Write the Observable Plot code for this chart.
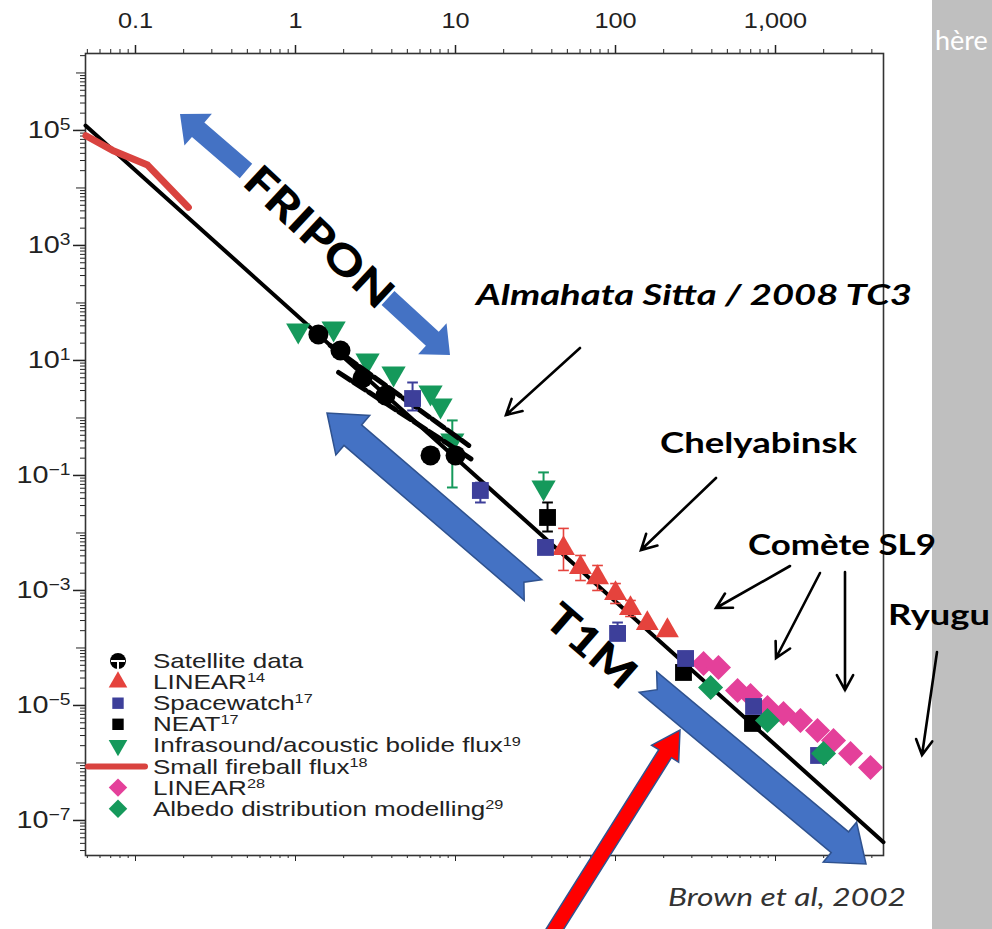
<!DOCTYPE html>
<html><head><meta charset="utf-8">
<script src="https://cdn.jsdelivr.net/npm/d3@7"></script>
<script src="https://cdn.jsdelivr.net/npm/@observablehq/plot@0.6"></script>
<style>
html,body{margin:0;padding:0;background:#fff;}
#wrap{position:relative;width:992px;height:929px;overflow:hidden;background:#fff;}
#wrap svg{position:absolute;left:0;top:0;}
</style></head><body><div id="wrap"></div>
<script>
// ---------- axis ticks ----------
const xMajorTicks = [0.1, 1, 10, 100, 1000];
const xTickLabels = ["0.1", "1", "10", "100", "1,000"];
const yLabeledTicks = [1e5, 1e3, 1e1, 1e-1, 1e-3, 1e-5, 1e-7];
const yTickLabels = ["10^5", "10^3", "10^1", "10^−1", "10^−3", "10^−5", "10^−7"];

// ---------- data (diameter, cumulative number per year) ----------
const fitD = [0.0487, 4730];
const fitN = [1.22e5, 4.2e-8];

const fireballD = [0.049, 0.072, 0.119, 0.214];
const fireballN = [8.1e4, 4.5e4, 2.5e4, 4.6e3];

const satD = [1.39, 1.91, 2.62, 3.65, 6.98, 10.0];
const satN = [28.3, 14.9, 4.9, 2.46, 0.223, 0.223];
const satUpperD = [1.65, 12.1];
const satUpperN = [18.2, 0.333];
const satLowerD = [1.86, 12.96];
const satLowerN = [6.18, 0.182];

const infraD = [1.04, 1.73, 2.82, 4.1, 6.98, 8.06, 9.55, 35.5];
const infraN = [33.3, 36.1, 10, 5.94, 2.77, 1.65, 0.406, 0.0618];
const infraHi = [null, null, null, null, null, null, 0.906, 0.113];
const infraLo = [null, null, null, null, null, null, 0.0618, null];

const lin14D = [47.3, 60.4, 77.2, 100, 124, 158, 211];
const lin14N = [5.37e-3, 2.51e-3, 1.68e-3, 8.87e-4, 4.86e-4, 2.67e-4, 2.01e-4];
const lin14Hi = [0.0120, 4.06e-3, 2.72e-3, 1.32e-3, 6.7e-4, null, null];
const lin14Lo = [2.23e-3, 1.49e-3, 1.0e-3, 5.94e-4, 3.53e-4, null, null];

const swD = [5.39, 14.3, 36.5, 103, 274, 729, 1857];
const swN = [2.18, 0.0548, 0.0056, 1.79e-4, 6.56e-5, 9.6e-6, 1.35e-6];
const swHi = [4.14, 0.075, null, 2.77e-4, null, null, null];
const swLo = [1.35, 0.0339, null, null, null, null, null];

const neatD = [37.6, 266, 718];
const neatN = [0.0186, 3.75e-5, 4.87e-6];
const neatHi = [0.0339, null, null];
const neatLo = [0.0106, null, null];

const lin28D = [355, 440, 579, 698, 891, 1122, 1432, 1830, 2304, 2944, 3924];
const lin28N = [5.37e-5, 4.58e-5, 1.82e-5, 1.49e-5, 9.2e-6, 7.27e-6, 5.48e-6, 3.67e-6, 2.46e-6, 1.46e-6, 8.35e-7];

const albD = [393, 891, 1995];
const albN = [2.06e-5, 5.48e-6, 1.46e-6];

// ---------- legend ----------
const legendNames = ["Satellite data", "LINEAR", "Spacewatch", "NEAT", "Infrasound/acoustic bolide flux", "Small fireball flux", "LINEAR", "Albedo distribution modelling"];
const legendSups = ["", "14", "17", "17", "19", "18", "28", "29"];

// ---------- colours ----------
const C = {red: "#e5433d", fire: "#d9433f", blue: "#3d3f9a", green: "#15995b", pink: "#e4409a", black: "#000"};

// ---------- helpers ----------
const rows = (xs, ys, hi, lo) => xs.map((x, i) => ({x, y: ys[i], hi: hi ? hi[i] : null, lo: lo ? lo[i] : null}));
const triDown = {draw(ctx, size) { const y = -Math.sqrt(size / (Math.sqrt(3) * 3)); ctx.moveTo(0, -2 * y); ctx.lineTo(Math.sqrt(3) * y, y); ctx.lineTo(-Math.sqrt(3) * y, y); ctx.closePath(); }};
const triUp = {draw(ctx, size) { const y = -Math.sqrt(size / (Math.sqrt(3) * 3)); ctx.moveTo(0, 2 * y); ctx.lineTo(-Math.sqrt(3) * y, -y); ctx.lineTo(Math.sqrt(3) * y, -y); ctx.closePath(); }};
const diamondSym = {draw(ctx, size) { const h = Math.sqrt(size / 2); ctx.moveTo(0, -h); ctx.lineTo(h, 0); ctx.lineTo(0, h); ctx.lineTo(-h, 0); ctx.closePath(); }};
function errMarks(data, color, w) {
  const withErr = data.filter(d => d.hi != null || d.lo != null);
  const caps = withErr.flatMap(d => [d.hi != null ? {x: d.x, c: d.hi} : null, d.lo != null ? {x: d.x, c: d.lo} : null].filter(Boolean));
  return [
    Plot.ruleX(withErr, {x: "x", y1: d => d.lo ?? d.y, y2: d => d.hi ?? d.y, stroke: color, strokeWidth: w}),
    Plot.link(caps, {x1: d => d.x / 1.08, x2: d => d.x * 1.08, y1: "c", y2: "c", stroke: color, strokeWidth: w})
  ];
}

const fit = rows(fitD, fitN), fire = rows(fireballD, fireballN), sat = rows(satD, satN);
const satUp = rows(satUpperD, satUpperN), satLow = rows(satLowerD, satLowerN);
const infra = rows(infraD, infraN, infraHi, infraLo), lin14 = rows(lin14D, lin14N, lin14Hi, lin14Lo);
const sw = rows(swD, swN, swHi, swLo), neat = rows(neatD, neatN, neatHi, neatLo);
const lin28 = rows(lin28D, lin28N), alb = rows(albD, albN);

const xDomain = [0.0487, 4730], yDomain = [2.46e-8, 2.18e6];
const xMinor = d3.range(-2, 4).flatMap(e => d3.range(2, 10).map(m => m * 10 ** e)).filter(v => v > xDomain[0] && v < xDomain[1]);
const yDecades = d3.range(-7, 7).map(e => 10 ** e);
const yMinor = d3.range(-8, 7).flatMap(e => d3.range(2, 10).map(m => m * 10 ** e)).filter(v => v > yDomain[0] && v < yDomain[1]);

const chart = Plot.plot({
  width: 992, height: 929,
  marginLeft: 85, marginRight: 109, marginTop: 53, marginBottom: 74,
  x: {type: "log", domain: xDomain},
  y: {type: "log", domain: yDomain},
  style: {fontFamily: "'Liberation Sans', Arial, sans-serif", fontSize: "22px", color: "#222", background: "transparent"},
  marks: [
    Plot.axisX({anchor: "top", ticks: xMajorTicks, tickFormat: d => xTickLabels[xMajorTicks.indexOf(d)], tickSize: 9, tickPadding: 17, label: null, strokeWidth: 1.5}),
    Plot.axisX({anchor: "top", ticks: xMinor, tickFormat: () => "", tickSize: 5, label: null}),
    Plot.axisX({anchor: "bottom", ticks: xMajorTicks, tickFormat: () => "", tickSize: 6, label: null}),
    Plot.axisX({anchor: "bottom", ticks: xMinor, tickFormat: () => "", tickSize: 3, label: null}),
    Plot.axisY({anchor: "left", ticks: yLabeledTicks, tickFormat: d => yTickLabels[yLabeledTicks.indexOf(d)], tickSize: 12, tickPadding: 3, label: null, strokeWidth: 1.5}),
    Plot.axisY({anchor: "left", ticks: yDecades, tickFormat: () => "", tickSize: 9, label: null}),
    Plot.axisY({anchor: "left", ticks: yMinor, tickFormat: () => "", tickSize: 5, label: null}),
    Plot.frame({stroke: "#333", strokeWidth: 1.6}),
    Plot.line(fit, {x: "x", y: "y", stroke: C.black, strokeWidth: 4}),
    Plot.line(fire, {x: "x", y: "y", stroke: C.fire, strokeWidth: 7, strokeLinejoin: "round", strokeLinecap: "round"}),
    ...errMarks(infra, C.green, 2),
    Plot.dot(infra, {x: "x", y: "y", symbol: triDown, r: 9, fill: C.green}),
    Plot.line(satUp, {x: "x", y: "y", stroke: C.black, strokeWidth: 5, strokeDasharray: "14,4"}),
    Plot.line(satLow, {x: "x", y: "y", stroke: C.black, strokeWidth: 5, strokeDasharray: "14,4"}),
    Plot.dot(sat, {x: "x", y: "y", r: 10, fill: C.black}),
    ...errMarks(lin14, C.red, 1.6),
    Plot.dot(lin14, {x: "x", y: "y", symbol: triUp, r: 8.5, fill: C.red}),
    Plot.dot(lin28, {x: "x", y: "y", symbol: diamondSym, r: 10, fill: C.pink}),
    ...errMarks(neat, C.black, 2),
    Plot.dot(neat, {x: "x", y: "y", symbol: "square", r: 9.5, fill: C.black}),
    ...errMarks(sw, C.blue, 2),
    Plot.dot(sw, {x: "x", y: "y", symbol: "square", r: 9.5, fill: C.blue}),
    Plot.dot(alb, {x: "x", y: "y", symbol: diamondSym, r: 10, fill: C.green})
  ]
});
document.getElementById("wrap").appendChild(chart);

// superscripts in y tick labels, widened like the reference
d3.select(chart).selectAll('g[aria-label="y-axis tick label"] text').each(function() {
  const t = this.textContent;
  if (!t.includes("^")) return;
  const [base, exp] = t.split("^");
  const sel = d3.select(this).attr("font-size", 24);
  sel.text(null);
  sel.append("tspan").text(base);
  sel.append("tspan").attr("dy", "-0.5em").attr("font-size", "16px").text(exp);
  const w = this.getComputedTextLength();
  sel.attr("textLength", w * 1.2).attr("lengthAdjust", "spacingAndGlyphs");
});
d3.select(chart).selectAll('g[aria-label="x-axis tick label"] text').each(function() {
  if (!this.textContent) return;
  const w = this.getComputedTextLength();
  d3.select(this).attr("textLength", w * 1.15).attr("lengthAdjust", "spacingAndGlyphs");
});

// ---------- overlay: legend & annotations ----------
const ov = d3.select("#wrap").append("svg").attr("width", 992).attr("height", 929);
ov.append("rect").attr("x", 932).attr("y", 0).attr("width", 60).attr("height", 929).attr("fill", "#bfbfbf");
ov.append("text").attr("x", 935).attr("y", 50).attr("fill", "#fff").attr("font-family", "Lato, 'Open Sans', sans-serif").attr("font-size", 27).text("hère");

// legend
const lg = ov.append("g").attr("font-family", "'Liberation Sans', Arial, sans-serif").attr("fill", "#222");
legendNames.forEach((name, i) => {
  const cy = 661 + i * 21.1, sx = 118;
  const t = lg.append("text").attr("x", 0).attr("y", 0).attr("font-size", 20)
    .attr("transform", `translate(153,${cy + 7}) scale(1.3,1)`);
  t.append("tspan").text(name);
  if (legendSups[i]) t.append("tspan").attr("dy", "-0.55em").attr("font-size", 12.5).text(legendSups[i]);
  const sym = [d3.symbolCircle, triUp, d3.symbolSquare, d3.symbolSquare, triDown, null, diamondSym, diamondSym][i];
  const col = [C.black, C.red, C.blue, C.black, C.green, C.fire, C.pink, C.green][i];
  const size = [200, 150, 130, 130, 150, 0, 170, 170][i];
  if (sym) lg.append("path").attr("transform", `translate(${sx},${cy})`).attr("d", d3.symbol(sym, size)()).attr("fill", col);
  else lg.append("line").attr("x1", 88).attr("x2", 145).attr("y1", cy).attr("y2", cy).attr("stroke", col).attr("stroke-width", 6).attr("stroke-linecap", "round");
  if (i === 0) {
    lg.append("line").attr("x1", sx - 7).attr("x2", sx + 7).attr("y1", cy).attr("y2", cy).attr("stroke", "#fff").attr("stroke-width", 2);
    lg.append("line").attr("x1", sx).attr("x2", sx).attr("y1", cy).attr("y2", cy + 9).attr("stroke", "#fff").attr("stroke-width", 2);
  }
});

function blockArrow(tail, tip, sw, hw, hl, notch) {
  const dx = tip[0] - tail[0], dy = tip[1] - tail[1], L = Math.hypot(dx, dy);
  const ux = dx / L, uy = dy / L, nx = -uy, ny = ux;
  const P = (a, b) => [tail[0] + ux * a + nx * b, tail[1] + uy * a + ny * b];
  const pts = [P(0, sw / 2), P(L - hl, sw / 2), P(L - hl, hw / 2), P(L, 0), P(L - hl, -hw / 2), P(L - hl, -sw / 2), P(0, -sw / 2)];
  if (notch) pts.push(P(notch, 0));
  return "M" + pts.map(p => p.join(",")).join("L") + "Z";
}
function thinArrow(a, b) {
  const ang = Math.atan2(b[1] - a[1], b[0] - a[0]), hl = 17, spread = 0.5;
  const p1 = [b[0] - hl * Math.cos(ang - spread), b[1] - hl * Math.sin(ang - spread)];
  const p2 = [b[0] - hl * Math.cos(ang + spread), b[1] - hl * Math.sin(ang + spread)];
  ov.append("path").attr("d", `M${a}L${b}M${p1}L${b}L${p2}`).attr("fill", "none").attr("stroke", "#000").attr("stroke-width", 2.6).attr("stroke-linecap", "round").attr("stroke-linejoin", "miter");
}
const BLUE = "#4472c4", BLUE_D = "#2f528f";
// FRIPON arrows
ov.append("path").attr("d", blockArrow([246, 171], [180, 114], 19, 42, 24, 0)).attr("fill", BLUE);
ov.append("path").attr("d", blockArrow([388, 298], [450, 355], 19, 42, 24, 0)).attr("fill", BLUE);
// T1M arrows
ov.append("path").attr("d", blockArrow([533, 590], [327, 413], 27, 52, 34, 12)).attr("fill", BLUE).attr("stroke", BLUE_D).attr("stroke-width", 1.5);
ov.append("path").attr("d", blockArrow([648, 682], [866, 864], 27, 52, 34, 12)).attr("fill", BLUE).attr("stroke", BLUE_D).attr("stroke-width", 1.5);
// red arrow
ov.append("path").attr("d", blockArrow([548, 940], [680, 730], 15, 32, 28, 0)).attr("fill", "#ff0000").attr("stroke", BLUE_D).attr("stroke-width", 1.5);

const ann = (txt, x, y, opts = {}) => {
  const t = ov.append("text").attr("x", x).attr("y", y).attr("font-family", "Lato, 'Open Sans', sans-serif")
    .attr("font-weight", opts.weight || "bold").attr("font-style", opts.italic ? "italic" : "normal")
    .attr("font-size", opts.size || 28).attr("fill", opts.fill || "#000").text(txt);
  if (opts.len) t.attr("textLength", opts.len).attr("lengthAdjust", "spacingAndGlyphs");
  if (opts.rot != null) t.attr("text-anchor", "middle").attr("dominant-baseline", "central").attr("transform", `rotate(${opts.rot},${x},${y})`);
  return t;
};
ann("FRIPON", 320, 236, {size: 42, rot: 43, len: 186, weight: 900});
ann("T1M", 592, 645, {size: 42, rot: 41, len: 105, weight: 900});
ann("Almahata Sitta / 2008 TC3", 476, 305, {italic: true, len: 436});
ann("Chelyabinsk", 660, 453, {len: 197});
ann("Comète SL9", 748, 555, {len: 188});
ann("Ryugu", 888, 625, {len: 102});
ann("Brown et al, 2002", 668, 906, {weight: "normal", italic: true, size: 25, fill: "#333", len: 238});

thinArrow([580, 348], [506, 415]);
thinArrow([716, 478], [641, 550]);
thinArrow([790, 566], [716, 608]);
thinArrow([820, 573], [776, 658]);
thinArrow([845, 572], [845, 690]);
thinArrow([937, 652], [922, 755]);
</script></body></html>
